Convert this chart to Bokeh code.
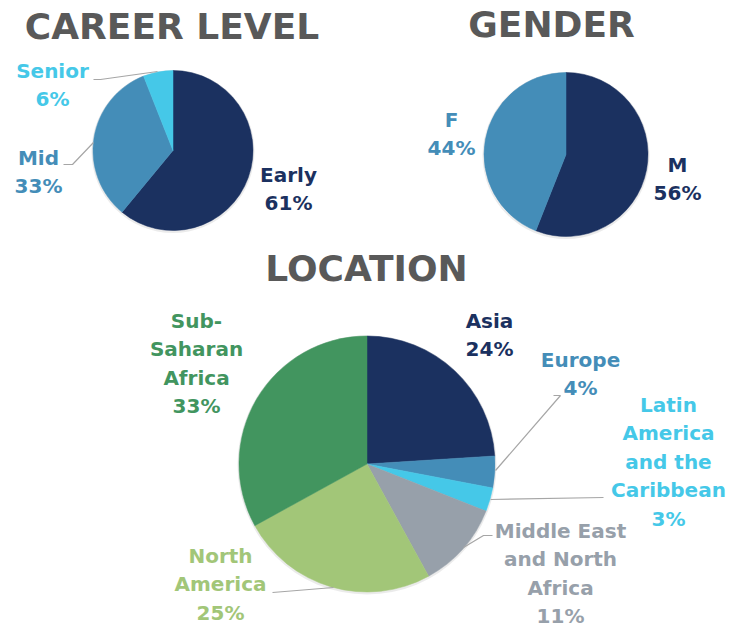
import math
from bokeh.plotting import figure
from bokeh.models import Range1d
from bokeh.core.properties import value
from bokeh.embed import file_html
from bokeh.resources import INLINE

W, H = 729, 624

# ---- data ----
career_labels = ["Early", "Mid", "Senior"]
career_values = [61, 33, 6]

gender_labels = ["M", "F"]
gender_values = [56, 44]

location_labels = ["Asia", "Europe", "Latin\nAmerica\nand the\nCaribbean",
                   "Middle East\nand North\nAfrica", "North\nAmerica", "Sub-\nSaharan\nAfrica"]
location_values = [24, 4, 3, 11, 25, 33]

titles = ["CAREER LEVEL", "GENDER", "LOCATION"]

# ---- styles / layout ----
NAVY = "#1B3160"
MIDBLUE = "#448DB8"
CYAN = "#45C8E8"
GRAY = "#97A0AA"
LGREEN = "#A2C678"
DGREEN = "#42955F"
TITLE_C = "#595959"
LEADER_C = "#A6A6A6"
FONT = "DejaVu Sans"
LAB_FS = 20
TITLE_FS = 36

career_colors = [NAVY, MIDBLUE, CYAN]
gender_colors = [NAVY, MIDBLUE]
location_colors = [NAVY, MIDBLUE, CYAN, GRAY, LGREEN, DGREEN]

# pie centers/radii in pixel coords (y down)
pies = [
    dict(vals=career_values, labels=career_labels, colors=career_colors,
         cx=172.5, cy=150, r=80,
         lab_pos=[(288, 182), (38, 165), (52, 78)]),
    dict(vals=gender_values, labels=gender_labels, colors=gender_colors,
         cx=565.5, cy=154, r=82,
         lab_pos=[(677, 172), (451, 127)]),
    dict(vals=location_values, labels=location_labels, colors=location_colors,
         cx=366.5, cy=463.5, r=128,
         lab_pos=[(489, 328), (580, 367), (668, 412), (560, 538), (220, 563), (196, 328)]),
]
title_pos = [(171.5, 40), (551, 38), (366, 282)]
LINE_H = 28.5
BASE_FIX = 0.4  # compensation of rendered baseline offset (fraction of font size)

leaders = [
    [(93, 79), (100, 79), (157, 71)],
    [(63, 164), (72, 164), (93, 142)],
    [(553, 395), (560, 395), (495, 470)],
    [(490, 499), (603, 497)],
    [(463, 547), (483, 535), (492, 535)],
    [(272, 592), (333, 587)],
]


def Y(y):
    return H - y


p = figure(width=W, height=H, output_backend="svg", toolbar_location=None,
           x_range=Range1d(0, W), y_range=Range1d(0, H), min_border=0)
p.axis.visible = False
p.grid.visible = False
p.outline_line_color = None
p.background_fill_color = "white"
p.border_fill_color = "white"

for pie in pies:
    total = float(sum(pie["vals"]))
    cum = 0.0
    starts, ends = [], []
    for v in pie["vals"]:
        starts.append(math.pi / 2 - 2 * math.pi * cum / total)
        cum += v
        ends.append(math.pi / 2 - 2 * math.pi * cum / total)
    p.circle(x=[pie["cx"]], y=[Y(pie["cy"]) - 1], radius=pie["r"] + 1.5,
             fill_color="#000000", fill_alpha=0.08, line_color=None)
    p.wedge(x=[pie["cx"]] * len(starts), y=[Y(pie["cy"])] * len(starts), radius=pie["r"],
            start_angle=starts, end_angle=ends, direction="clock",
            fill_color=pie["colors"], line_color=pie["colors"], line_width=0.5)
    xs, ys, txt, cols = [], [], [], []
    for lab, v, col, (lx, ly) in zip(pie["labels"], pie["vals"], pie["colors"], pie["lab_pos"]):
        lines = lab.split("\n") + [f"{v}%"]
        for i, ln in enumerate(lines):
            xs.append(lx)
            ys.append(Y(ly + i * LINE_H - BASE_FIX * LAB_FS))
            txt.append(ln)
            cols.append(col)
    p.text(x=xs, y=ys, text=txt, text_color=cols, text_font=value(FONT),
           text_font_style="bold", text_font_size=f"{LAB_FS}px", text_align="center",
           text_baseline="alphabetic")

for pts in leaders:
    p.line(x=[a for a, b in pts], y=[Y(b) for a, b in pts], line_color=LEADER_C, line_width=1.2)

p.text(x=[t[0] for t in title_pos], y=[Y(t[1] - BASE_FIX * TITLE_FS) for t in title_pos], text=titles,
       text_color=TITLE_C, text_font=value(FONT), text_font_style="bold",
       text_font_size=f"{TITLE_FS}px", text_align="center", text_baseline="alphabetic")

open("out.html", "w").write(file_html(p, INLINE))
